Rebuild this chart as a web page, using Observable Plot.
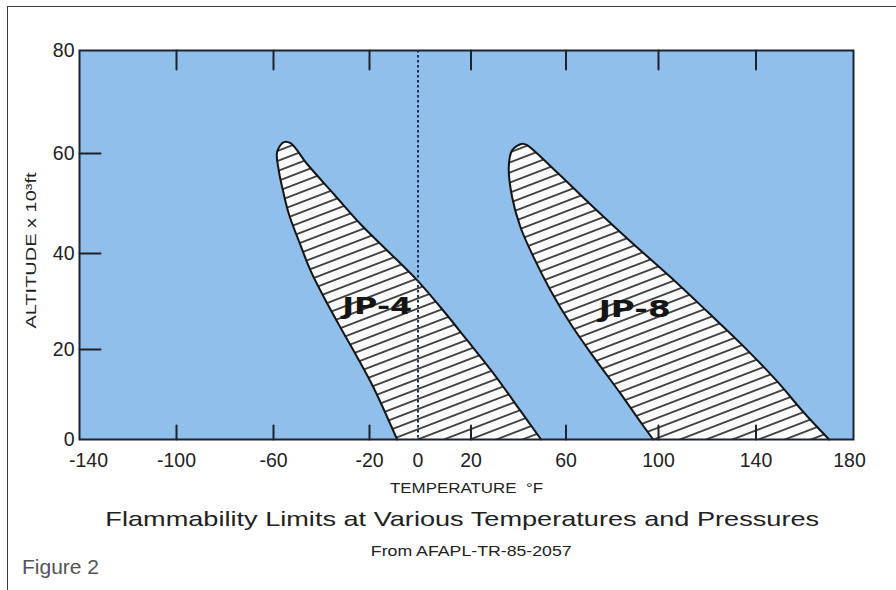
<!DOCTYPE html>
<html><head><meta charset="utf-8">
<script src="https://cdn.jsdelivr.net/npm/d3@7"></script>
<script src="https://cdn.jsdelivr.net/npm/@observablehq/plot@0.6"></script>
<style>
body{margin:0;background:#fff;}
#page{position:relative;width:896px;height:590px;overflow:hidden;font-family:"Liberation Sans",Arial,sans-serif;color:#222;}
#chart{position:absolute;left:0;top:0;}
#frameTop{position:absolute;left:7px;top:6px;width:889px;height:0;border-top:1.6px solid #3a3a3a;}
#frameLeft{position:absolute;left:7px;top:6px;width:0;height:584px;border-left:1.6px solid #3a3a3a;}
.cap{position:absolute;width:896px;text-align:center;white-space:nowrap;}
.cap span{display:inline-block;transform-origin:50% 50%;}
#title{left:14.5px;top:508px;font-size:21px;line-height:21px;}
#title span{transform:scaleX(1.292);}
#sub{left:23.5px;top:544.3px;font-size:14.7px;line-height:14.7px;}
#sub span{transform:scaleX(1.206);}
#fig{position:absolute;left:22px;top:555.5px;font-size:21px;line-height:21px;color:#555;}
</style></head><body>
<div id="page">
<div id="chart"></div>
<div id="frameTop"></div><div id="frameLeft"></div>
<div class="cap" id="title"><span>Flammability Limits at Various Temperatures and Pressures</span></div>
<div class="cap" id="sub"><span>From AFAPL-TR-85-2057</span></div>
<div id="fig">Figure 2</div>
</div>
<script>
// ---- data ----
const xTicks = [-140, -100, -60, -20, 0, 20, 60, 100, 140, 180];
const yTicks = [0, 20, 40, 60, 80];
const innerTicks = [-100, -60, -20, 20, 60, 100, 140];
const xLabel = "TEMPERATURE\u00a0\u00a0°F";
const yLabel = "ALTITUDE x 10³ft";

const jp4Temp = [-8.6, -18.2, -25.1, -32.1, -39.0, -44.6, -49.5, -53.6, -56.4, -57.8, -58.5, -55.7, -52.9, -46.0, -34.9, -23.8, -12.7, -0.3, 8.5, 18.6, 29.6, 40.8, 49.5];
const jp4Alt  = [0, 11.4, 18.3, 24.6, 30.9, 36.5, 42.6, 47.9, 53.3, 56.6, 60.3, 62.2, 62.0, 57.9, 51.9, 45.9, 40.6, 34.4, 28.8, 21.9, 14.6, 6.4, 0];
const jp8Temp = [97.7, 91.8, 83.6, 72.0, 61.9, 53.5, 46.4, 40.8, 37.3, 35.9, 37.3, 41.6, 43.7, 56.3, 70.6, 87.9, 104.9, 120.0, 135.0, 148.7, 159.6, 170.0];
const jp8Alt  = [0, 4.2, 10.2, 18.3, 25.4, 32.3, 39.2, 45.3, 51.3, 57.3, 60.6, 61.9, 61.6, 56.2, 49.8, 42.4, 35.1, 27.9, 20.6, 12.9, 6.0, 0];

const fuelNames = ["JP-4", "JP-8"];
const fuelLabelTemp = [-16.8, 89.7];
const fuelLabelAlt = [28.9, 28.3];

// ---- tables ----
const jp4 = jp4Temp.map((t, i) => ({t, a: jp4Alt[i]}));
const jp8 = jp8Temp.map((t, i) => ({t, a: jp8Alt[i]}));
const fuels = fuelNames.map((n, i) => ({n, t: fuelLabelTemp[i], a: fuelLabelAlt[i]}));

const axisColor = "#1c2330";
const fontTick = 19.5;
const tickShape = {draw(ctx, l) { ctx.moveTo(0, 0); ctx.lineTo(0, -l); }};
const yBottom = yTicks[0], yTop = yTicks[yTicks.length - 1], xLeft = xTicks[0];

const svg = Plot.plot({
  width: 896, height: 500,
  marginLeft: 79, marginRight: 43, marginTop: 50, marginBottom: 61,
  style: {fontFamily: "'Liberation Sans', Arial, sans-serif", background: "transparent", color: "#222", overflow: "visible"},
  x: {type: "linear", domain: xTicks, range: [79, 176, 273, 369, 417.5, 470.5, 565.5, 658, 755.5, 853]},
  y: {type: "linear", domain: yTicks, range: [439, 349, 253, 153, 50]},
  marks: [
    Plot.frame({fill: "#8fbfea", stroke: null}),
    Plot.line(jp4, {x: "t", y: "a", curve: "catmull-rom", fill: "url(#hatch)", stroke: "#141414", strokeWidth: 2}),
    Plot.line(jp8, {x: "t", y: "a", curve: "catmull-rom", fill: "url(#hatch)", stroke: "#141414", strokeWidth: 2}),
    Plot.ruleX([0], {stroke: "#1f2f55", strokeWidth: 2, strokeDasharray: "2.4 2.6"}),
    Plot.text(fuels, {x: "t", y: "a", text: "n", fontSize: 23, fontWeight: 900, fontFamily: "'DejaVu Sans', sans-serif", fill: "#151515"}),
    Plot.vector(innerTicks, {x: d => d, y: () => yBottom, length: 14, rotate: 0, anchor: "start", shape: tickShape, stroke: axisColor, strokeWidth: 2}),
    Plot.vector(innerTicks, {x: d => d, y: () => yTop, length: 19, rotate: 180, anchor: "start", shape: tickShape, stroke: axisColor, strokeWidth: 2}),
    Plot.vector(yTicks.slice(1, -1), {x: () => xLeft, y: d => d, length: 21, rotate: 90, anchor: "start", shape: tickShape, stroke: axisColor, strokeWidth: 2}),
    Plot.frame({stroke: axisColor, strokeWidth: 2, fill: "none"}),
    Plot.axisX({ticks: xTicks.slice(1, -1), anchor: "bottom", tickSize: 0, tickPadding: 14, fontSize: fontTick, tickFormat: d => String(d), label: null}),
    Plot.text([xTicks[0]], {x: d => d, frameAnchor: "bottom", lineAnchor: "top", textAnchor: "middle", dy: 14, dx: 9, text: d => String(d), fontSize: fontTick}),
    Plot.text([xTicks[xTicks.length - 1]], {x: d => d, frameAnchor: "bottom", lineAnchor: "top", textAnchor: "middle", dy: 14, dx: -4, text: d => String(d), fontSize: fontTick}),
    Plot.axisY({ticks: yTicks, anchor: "left", tickSize: 0, tickPadding: 5, fontSize: fontTick, tickFormat: d => String(d), label: null}),
    Plot.text([xLabel], {frameAnchor: "bottom", lineAnchor: "middle", textAnchor: "middle", dy: 49, text: d => d, fontSize: 14}),
    Plot.text([yLabel], {frameAnchor: "left", lineAnchor: "middle", textAnchor: "middle", dx: -48, dy: 5.5, rotate: -90, text: d => d, fontSize: 15})
  ]
});

// hatch pattern (style)
const defs = d3.select(svg).insert("defs", ":first-child");
const pat = defs.append("pattern").attr("id", "hatch").attr("patternUnits", "userSpaceOnUse")
  .attr("width", 20).attr("height", 9.4).attr("patternTransform", "rotate(-21)");
pat.append("rect").attr("width", 20).attr("height", 9.4).attr("fill", "#fbfbfb");
pat.append("line").attr("x1", 0).attr("x2", 20).attr("y1", 4.7).attr("y2", 4.7).attr("stroke", "#151515").attr("stroke-width", 1.5);

// stretched lettering as in the original print
const stretch = {"JP-4": 70, "JP-8": 72};
stretch[xLabel] = 153;
stretch[yLabel] = 156;
d3.select(svg).selectAll("text").each(function() {
  const w = stretch[this.textContent];
  if (w) d3.select(this).attr("textLength", w).attr("lengthAdjust", "spacingAndGlyphs");
});

document.getElementById("chart").appendChild(svg);
</script>
</body></html>
